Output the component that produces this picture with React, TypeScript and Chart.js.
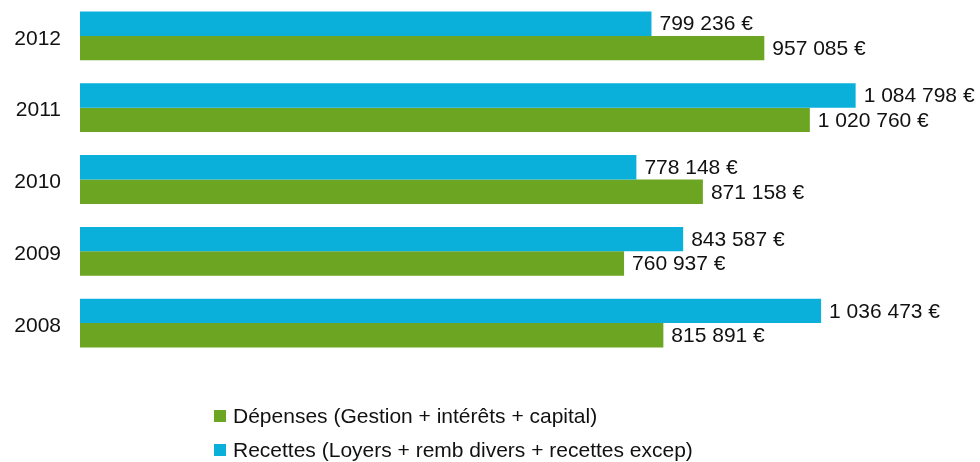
import React, { useEffect, useRef } from "react";
import { Chart, registerables } from "chart.js";

Chart.register(...registerables);

const years = ["2012", "2011", "2010", "2009", "2008"];
const recettes = [799236, 1084798, 778148, 843587, 1036473];
const depenses = [957085, 1020760, 871158, 760937, 815891];
const recettesLabel = "Recettes (Loyers + remb divers + recettes excep)";
const depensesLabel = "Dépenses (Gestion + intérêts + capital)";

const BLUE = "#0AAFDA";
const GREEN = "#6CA521";
const FONT = "'Liberation Sans', Arial, sans-serif";

function fmt(v: number): string {
  const s = Math.round(v).toString();
  return s.replace(/\B(?=(\d{3})+(?!\d))/g, " ") + " €";
}

const valueLabels = {
  id: "valueLabels",
  afterDatasetsDraw(chart: any) {
    const ctx = chart.ctx;
    ctx.save();
    ctx.font = `21px ${FONT}`;
    ctx.fillStyle = "#111";
    ctx.textAlign = "left";
    ctx.textBaseline = "middle";
    chart.data.datasets.forEach((ds: any, di: number) => {
      const meta = chart.getDatasetMeta(di);
      meta.data.forEach((el: any, i: number) => {
        ctx.fillText(fmt(ds.data[i]), el.x + 8, el.y + 1);
      });
    });
    ctx.restore();
  },
};

export default function App() {
  const ref = useRef<HTMLCanvasElement>(null);
  useEffect(() => {
    if (!ref.current) return;
    const chart = new Chart(ref.current, {
      type: "bar",
      data: {
        labels: years,
        datasets: [
          { label: recettesLabel, data: recettes, backgroundColor: BLUE, borderWidth: 0 },
          { label: depensesLabel, data: depenses, backgroundColor: GREEN, borderWidth: 0 },
        ],
      },
      options: {
        indexAxis: "y",
        responsive: false,
        animation: false,
        devicePixelRatio: 1,
        layout: { padding: { top: -1, right: 42, bottom: 103, left: 0 } },
        datasets: { bar: { barPercentage: 1, categoryPercentage: 0.68 } },
        plugins: { legend: { display: false }, tooltip: { enabled: false } },
        scales: {
          x: { min: 0, max: 1200000, display: false, grid: { display: false } },
          y: {
            grid: { display: false },
            border: { display: false },
            ticks: { color: "#111", font: { family: FONT, size: 21 }, padding: 11, labelOffset: 3 },
            afterFit: (scale: any) => {
              scale.width = 80;
              scale.paddingTop = 0;
              scale.paddingBottom = 0;
            },
          },
        },
      } as any,
      plugins: [valueLabels],
    });
    return () => chart.destroy();
  }, []);

  const item = (color: string, text: string) => (
    <div style={{ display: "flex", alignItems: "center", height: 34 }}>
      <span style={{ display: "inline-block", width: 12, height: 12, background: color, marginRight: 7 }} />
      <span style={{ fontFamily: FONT, fontSize: 21, color: "#111", whiteSpace: "nowrap" }}>{text}</span>
    </div>
  );

  return (
    <div style={{ position: "absolute", left: 0, top: 0, width: 980, height: 462, background: "#fff" }}>
      <canvas ref={ref} width={980} height={462} style={{ position: "absolute", left: 0, top: 0 }} />
      <div style={{ position: "absolute", left: 214, top: 399 }}>
        {item(GREEN, depensesLabel)}
        {item(BLUE, recettesLabel)}
      </div>
    </div>
  );
}
